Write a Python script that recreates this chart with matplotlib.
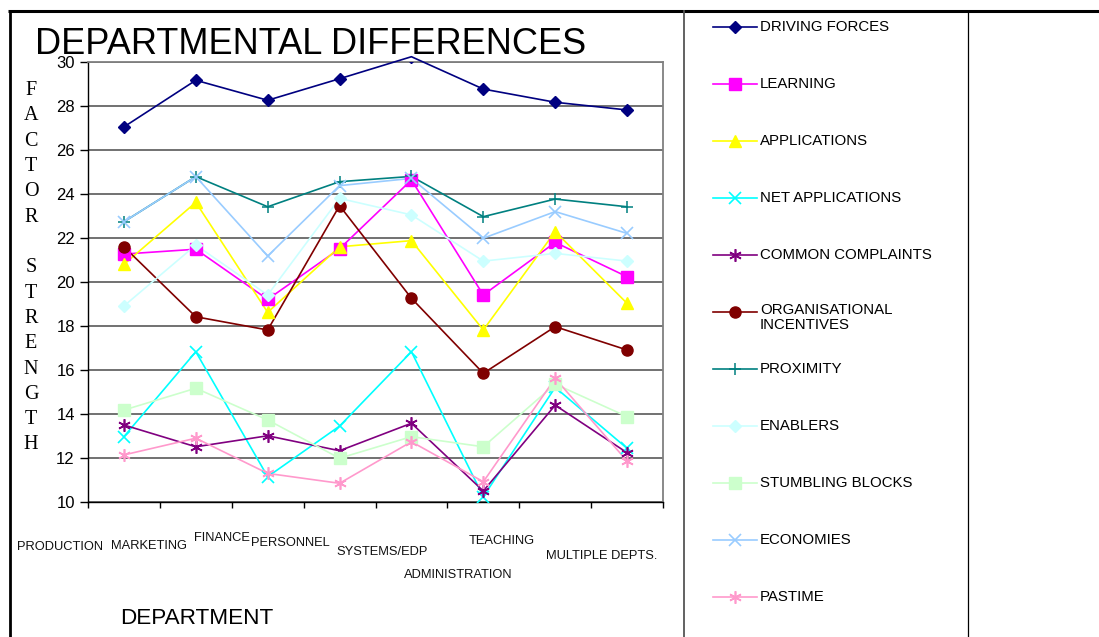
import matplotlib
matplotlib.use("Agg")
import matplotlib.pyplot as plt

plt.rcParams["font.family"] = ["Liberation Sans", "DejaVu Sans"]

# ---- data -------------------------------------------------------------
departments = ["PRODUCTION", "MARKETING", "FINANCE", "PERSONNEL",
               "SYSTEMS/EDP", "ADMINISTRATION", "TEACHING", "MULTIPLE DEPTS."]

driving_forces      = [27.05, 29.17, 28.26, 29.24, 30.24, 28.77, 28.17, 27.82]
learning            = [21.27, 21.49, 19.21, 21.51, 24.64, 19.41, 21.80, 20.24]
applications        = [20.80, 23.62, 18.62, 21.60, 21.88, 17.82, 22.29, 19.03]
net_applications    = [12.97, 16.83, 11.15, 13.45, 16.83, 10.24, 15.21, 12.44]
common_complaints   = [13.50, 12.51, 13.01, 12.33, 13.58, 10.50, 14.40, 12.24]
org_incentives      = [21.60, 18.42, 17.82, 23.47, 19.26, 15.85, 17.97, 16.91]
proximity           = [22.74, 24.79, 23.42, 24.56, 24.80, 22.97, 23.77, 23.42]
enablers            = [18.91, 21.68, 19.41, 23.80, 23.05, 20.95, 21.30, 20.95]
stumbling_blocks    = [14.18, 15.17, 13.73, 11.99, 12.97, 12.51, 15.36, 13.88]
economies           = [22.74, 24.79, 21.18, 24.38, 24.71, 21.99, 23.20, 22.21]
pastime             = [12.14, 12.90, 11.30, 10.85, 12.74, 10.92, 15.62, 11.86]

series_names = ["DRIVING FORCES", "LEARNING", "APPLICATIONS", "NET APPLICATIONS",
                "COMMON COMPLAINTS", "ORGANISATIONAL\nINCENTIVES", "PROXIMITY",
                "ENABLERS", "STUMBLING BLOCKS", "ECONOMIES", "PASTIME"]
series_values = [driving_forces, learning, applications, net_applications,
                 common_complaints, org_incentives, proximity, enablers,
                 stumbling_blocks, economies, pastime]

y_ticks = [10, 12, 14, 16, 18, 20, 22, 24, 26, 28, 30]

# ---- styles -----------------------------------------------------------
ASTER = (6, 2, 0)
styles = [
    dict(color="#000080", marker="D", ms=6.5, mfc="#000080", mec="#000080"),
    dict(color="#FF00FF", marker="s", ms=8, mfc="#FF00FF", mec="#FF00FF"),
    dict(color="#FFFF00", marker="^", ms=9, mfc="#FFFF00", mec="#FFFF00"),
    dict(color="#00FFFF", marker="x", ms=8, mew=1.2),
    dict(color="#800080", marker=ASTER, ms=9, mew=1.2),
    dict(color="#800000", marker="o", ms=8, mfc="#800000", mec="#800000"),
    dict(color="#008080", marker="+", ms=9, mew=1.1),
    dict(color="#CCFFFF", marker="D", ms=6.5, mfc="#CCFFFF", mec="#CCFFFF"),
    dict(color="#CCFFCC", marker="s", ms=8, mfc="#CCFFCC", mec="#CCFFCC"),
    dict(color="#99CCFF", marker="x", ms=8, mew=1.2),
    dict(color="#FF99CC", marker=ASTER, ms=9, mew=1.2),
]

W, H = 1099, 637
fig = plt.figure(figsize=(W / 100, H / 100), dpi=100)

# plot area in pixels: left 88, right 663, top 62, bottom 502
ax = fig.add_axes([88 / W, (H - 502) / H, 575 / W, 440 / H])
x = list(range(len(departments)))

for vals, st in zip(series_values, styles):
    st = dict(st)
    color = st.pop("color")
    ax.plot(x, vals, color=color, lw=1.2, clip_on=False, zorder=3)
    ax.plot(x, vals, color=color, ls="none", zorder=4, **st)

ax.set_xlim(-0.5, len(departments) - 0.5)
ax.set_ylim(10, 30)
ax.set_yticks(y_ticks)
ax.set_yticklabels([str(v) for v in y_ticks], fontsize=12)
ax.tick_params(axis="y", length=6, width=1, pad=3.5, direction="out")
ax.set_xticks([i - 0.5 for i in range(len(departments) + 1)])
ax.set_xticklabels([])
ax.tick_params(axis="x", length=4, width=1, direction="out")
ax.yaxis.grid(True, color="#4a4a4a", lw=1.1)
ax.set_axisbelow(True)
for side in ("top", "right"):
    ax.spines[side].set_color("#808080")
    ax.spines[side].set_linewidth(1.3)
for side in ("left", "bottom"):
    ax.spines[side].set_color("#000000")
    ax.spines[side].set_linewidth(1.0)

# staggered department labels (data x, pixels below the axis)
label_x = [-0.89, 0.35, 1.37, 2.32, 3.59, 4.65, 5.25, 6.64]
label_drop = [44.5, 44, 36, 41, 50, 73, 39, 54]
xtr = ax.get_xaxis_transform()
for name, lx, dy in zip(departments, label_x, label_drop):
    ax.text(lx, -dy / 440, name, transform=xtr, ha="center", va="center",
            fontsize=9.3, color="#111111", clip_on=False)

# ---- overlay in pixel coordinates ------------------------------------
ov = fig.add_axes([0, 0, 1, 1], zorder=5)
ov.set_xlim(0, W)
ov.set_ylim(H, 0)
ov.axis("off")
ov.patch.set_alpha(0)

ov.text(35, 54.5, "DEPARTMENTAL DIFFERENCES", fontsize=26, ha="left",
        va="baseline", color="black")
ov.text(197, 619, "DEPARTMENT", fontsize=16.2, ha="center", va="center",
        color="black")

ylabel = "FACTOR STRENGTH"
for i, ch in enumerate(ylabel):
    ov.text(31, 90.7 + i * 25.3, ch, fontsize=14.5, ha="center", va="center",
            family=["Liberation Serif", "DejaVu Serif"], color="black")

# frame lines
ov.plot([8, W], [10.5, 10.5], color="black", lw=2.2, solid_capstyle="butt")
ov.plot([9.8, 9.8], [10.5, H], color="black", lw=2.0, solid_capstyle="butt")
ov.plot([684, 684], [10.5, H], color="#555555", lw=1.3)
ov.plot([968, 968], [10.5, H], color="black", lw=0.9)

# legend
for i, (name, st) in enumerate(zip(series_names, styles)):
    yy = 27 + i * 57
    st = dict(st)
    color = st.pop("color")
    ov.plot([713, 757], [yy, yy], color=color, lw=1.2)
    ov.plot([735], [yy], color=color, ls="none", **st)
    if "\n" in name:
        ov.text(760, yy - 9, name, fontsize=10.8, ha="left", va="top",
                color="black", linespacing=1.05)
    else:
        ov.text(760, yy, name, fontsize=10.8, ha="left", va="center",
                color="black")

fig.savefig("out.png", dpi=100)
